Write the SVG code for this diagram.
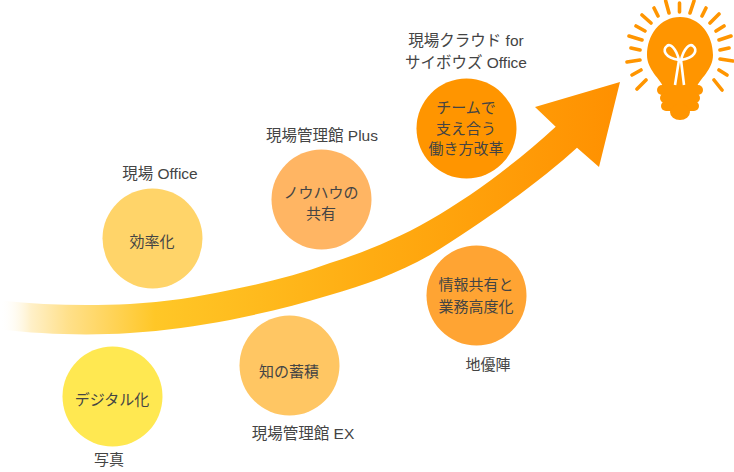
<svg xmlns="http://www.w3.org/2000/svg" width="734" height="472" viewBox="0 0 734 472">
<style>
text{font-family:"Liberation Sans","Noto Sans CJK JP",sans-serif;font-size:15px;fill:#444;text-anchor:middle}
.l{font-size:15.500px}
.ray{stroke:#ff9500;stroke-width:3.6;stroke-linecap:round;fill:none}
.fil{stroke:#fff;stroke-width:2.600;fill:none;stroke-linejoin:round}
.b{fill:#ff9500}
</style>
<defs><linearGradient id="g" gradientUnits="userSpaceOnUse" x1="0" y1="0" x2="620" y2="0">
<stop offset="0" stop-color="#fff" stop-opacity="0"/>
<stop offset="0.05" stop-color="#fff0c8"/>
<stop offset="0.11" stop-color="#ffe08a"/>
<stop offset="0.25" stop-color="#ffc727"/>
<stop offset="0.6" stop-color="#ffac12"/>
<stop offset="1" stop-color="#ff9000"/>
</linearGradient></defs>
<g id="connectors">
<path fill="url(#g)" d="M0 300.500C45 305.500 90 306 130 304C165 302 198 297 230 290C265 283 298 275 330 263C363 252.700 397 239 430 220C472 196 516 163 555.700 126.700L535 107L620 82L599 167L577 147.700C545 177 490 218 430 255C397 274 364 285 330 295C297 305 264 313 230 320C197 326 165 331 130 333C85 336 40 334 0 329.500Z"/>
</g>
<g id="n1"><circle cx="112.500" cy="396.500" r="50" fill="#ffe851"/><text x="112" y="405">デジタル化</text><text x="109" y="465">写真</text></g>
<g id="n2"><circle cx="152.500" cy="238.500" r="50" fill="#ffd469"/><text x="152" y="247">効率化</text><text class="l" x="160" y="179">現場 Office</text></g>
<g id="n3"><circle cx="289.500" cy="365.500" r="50" fill="#ffc663"/><text x="289" y="377">知の蓄積</text><text class="l" x="303" y="439">現場管理館 EX</text></g>
<g id="n4"><circle cx="321.500" cy="199.500" r="50" fill="#ffb563"/><text x="321" y="198">ノウハウの</text><text x="321" y="219">共有</text><text class="l" x="322" y="141">現場管理館 Plus</text></g>
<g id="n5"><circle cx="476.500" cy="295.500" r="50" fill="#ffa433"/><text x="476" y="290">情報共有と</text><text x="476" y="312">業務高度化</text><text x="488" y="370">地優陣</text></g>
<g id="n6"><circle cx="466.500" cy="128.500" r="50" fill="#ff9500"/><text x="466" y="113">チームで</text><text x="466" y="134">支え合う</text><text x="466" y="154">働き方改革</text><text class="l" x="466" y="46">現場クラウド for</text><text class="l" x="466" y="68">サイボウズ Office</text></g>
<g id="bulb">
<path class="ray" d="M665.700 1L669 13M679.500 3V12M694 1L690 13M654 8L658 16M706 8L702 16M642 15L651 23M719 14L710 23M636 26L645 31M724 26L716 31M629 36L642 40M731 36L719 40M631 48L640 50M729 48L720 50M627 62L640 60M733 61L720 59M632 75L641 70M727 75L719 70M637 89L646 80M722 90L714 80"/>
<path class="b" d="M680 17C700 17 713 35 713 55C713 70 700 78 695 90H665C660 78 647 70 647 55C647 35 660 17 680 17Z"/>
<rect class="b" x="657" y="85" width="46" height="10" rx="5"/>
<rect class="b" x="660" y="93" width="40" height="10" rx="5"/>
<rect class="b" x="661" y="101" width="38" height="10" rx="5"/>
<ellipse class="b" cx="680" cy="112" rx="10" ry="8"/>
<path class="fil" d="M675 85L679 60C676 48 670 43 667 46C662 50 665 58 679 60M684 85L681 60C684 48 690 43 693 46C698 50 695 58 681 60"/>
</g>
</svg>
